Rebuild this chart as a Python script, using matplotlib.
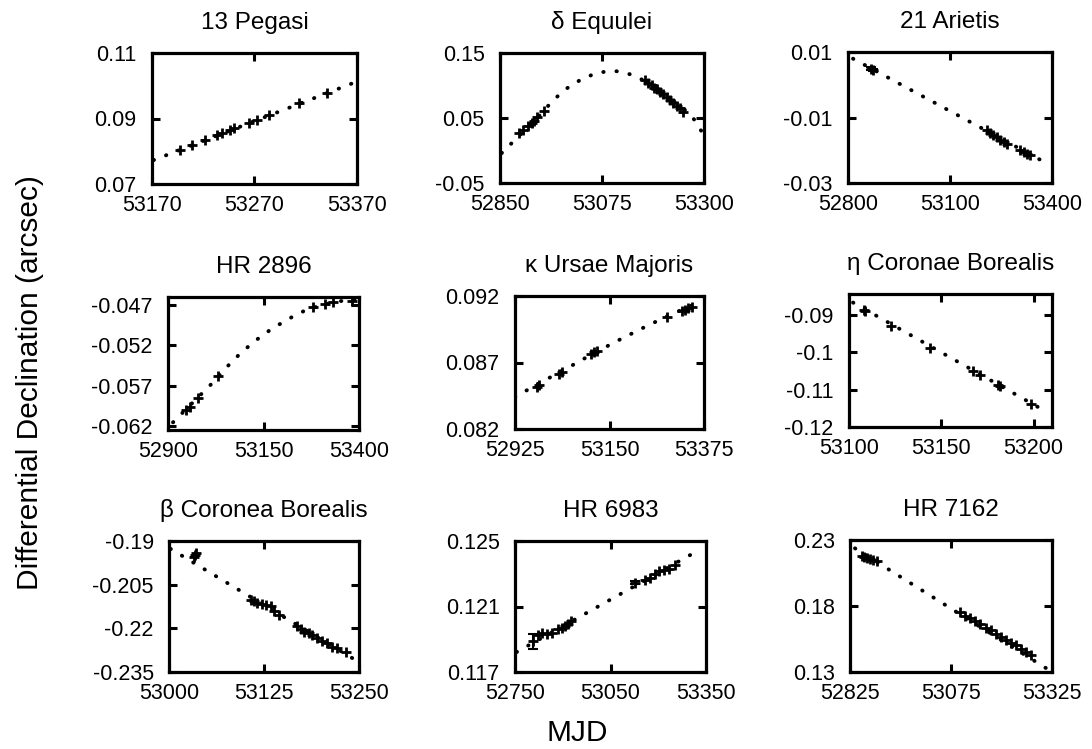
import matplotlib
matplotlib.use("Agg")
import matplotlib.pyplot as plt
import numpy as np

plt.rcParams['font.family'] = ['Liberation Sans', 'DejaVu Sans']

# 13 Pegasi
pegasi_mjd = [53197.6, 53209, 53222, 53233.4, 53238, 53246.4, 53249.7, 53264.3, 53272.4, 53283.8, 53313, 53340.7]
pegasi_dec = [0.0804, 0.0819, 0.0834, 0.0850, 0.0855, 0.0865, 0.0870, 0.0886, 0.0896, 0.0911, 0.0947, 0.0978]
pegasi_fit_mjd = [53171.6, 53366]
pegasi_fit_dec = [0.0773, 0.1008]

# delta Equulei
equ_mjd = [52892.6, 52900, 52912.5, 52919.9, 52925, 52932.4, 52947,
           53169.9, 53177.2, 53184.6, 53189.7, 53195.6, 53203, 53210.3, 53217.6,
           53225, 53232.4, 53239.7, 53247, 53254.4]
equ_dec = [0.0265, 0.0316, 0.0378, 0.0429, 0.0459, 0.0510, 0.0607,
           0.1082, 0.1041, 0.1005, 0.0969, 0.0939, 0.0903, 0.0862, 0.0816,
           0.0776, 0.0724, 0.0684, 0.0648, 0.0597]
equ_fit_mjd = [52853.7, 52879.4, 52908.8, 52938.2, 52967.6, 52997, 53026.5, 53055.9, 53085.3,
               53107.4, 53136.8, 53166.2, 53195.6, 53225, 53254.4, 53276.5, 53294.9]
equ_fit_dec = [-0.004, 0.0138, 0.0342, 0.0546, 0.0776, 0.0954, 0.1082, 0.1173, 0.1219,
               0.1219, 0.1173, 0.1082, 0.0954, 0.0801, 0.0648, 0.0495, 0.0291]

# 21 Arietis
ari_mjd = [52868.9, 52873.8, 53208.2, 53218, 53227.9, 53237.7, 53247.5, 53257.4, 53267.2,
           53306.6, 53316.4, 53326.2, 53336]
ari_dec = [0.0049, 0.0044, -0.0139, -0.0147, -0.0154, -0.0161, -0.0168, -0.0174, -0.0181,
           -0.0200, -0.0205, -0.0210, -0.0215]
ari_err = [0.0004, 0.0003, 0, 0, 0, 0, 0, 0, 0, 0, 0, 0, 0]
ari_fit_mjd = [52814.8, 53390.2]
ari_fit_dec = [0.00796, -0.0243]

# HR 2896
hr2896_mjd = [52946.3, 52958.6, 52978.7, 53031.1, 53280.2, 53310.8, 53332.7, 53380.8]
hr2896_dec = [-0.05998, -0.0596, -0.05857, -0.05584, -0.04729, -0.04688, -0.04667, -0.04646]
hr2896_fit_mjd = [52913.1, 52948.1, 52983, 53018, 53053, 53087.9, 53122.9, 53157.9,
                  53192.8, 53227.8, 53262.8, 53297.7, 53332.7, 53367.7, 53398.3]
hr2896_fit_dec = [-0.06155, -0.05989, -0.05824, -0.05659, -0.05473, -0.05307, -0.05163, -0.05039,
                  -0.04936, -0.0484, -0.04758, -0.04708, -0.04667, -0.04638, -0.04626]

# kappa Ursae Majoris
uma_mjd = [52976.6, 52982.9, 53030.6, 53036.9, 53105.2, 53113.1, 53121, 53286.1,
           53321.8, 53329.8, 53337.7, 53345.6]
uma_dec = [0.08517, 0.0853, 0.08617, 0.0863, 0.08763, 0.08778, 0.08788, 0.09044,
           0.09085, 0.09095, 0.09108, 0.0912]
uma_fit_mjd = [52925, 52984.5, 53048, 53111.5, 53175, 53238.5, 53302, 53369.4]
uma_fit_dec = [0.08441, 0.08547, 0.08655, 0.08768, 0.08873, 0.08974, 0.09069, 0.0916]

# eta Coronae Borealis
etacrb_mjd = [53108, 53108.8, 53122.9, 53144.1, 53167.2, 53170.8, 53180.7, 53181.6, 53198.8]
etacrb_dec = [-0.0886, -0.0889, -0.0930, -0.0988, -0.1049, -0.1060, -0.1087, -0.1090, -0.1137]
etacrb_fit_mjd = [53102.2, 53206.9]
etacrb_fit_dec = [-0.0866, -0.1159]

# beta Coronea Borealis
betacrb_mjd = [53032.9, 53034.2, 53036, 53107.5, 53111.8, 53116.2, 53122.8, 53127.2, 53133.8,
               53138.2, 53144.7, 53168.9, 53173.2, 53177.6, 53184.2, 53188.6, 53195.2,
               53201.8, 53208.3, 53215, 53221.5, 53232.5]
betacrb_dec = [-0.1954, -0.1947, -0.1942, -0.2101, -0.2106, -0.2112, -0.2118, -0.2120, -0.2124,
               -0.2139, -0.2153, -0.2193, -0.2203, -0.2211, -0.2217, -0.2222, -0.2234,
               -0.2243, -0.2251, -0.2263, -0.2269, -0.2280]
betacrb_fit_mjd = [53002, 53248]
betacrb_fit_dec = [-0.1927, -0.2313]

# HR 6983
hr6983_mjd = [52807.7, 52823.5, 52836, 52849.7, 52865.4, 52886.4, 52896.9, 52907.4, 52917.9, 52926.3,
              53127.8, 53159.3, 53175, 53190.8, 53201.3, 53217, 53232.8, 53251.6]
hr6983_dec = [0.11887, 0.11928, 0.11938, 0.11934, 0.1194, 0.11961, 0.11969, 0.11981, 0.11995, 0.12009,
              0.12245, 0.1226, 0.12274, 0.123, 0.12315, 0.12321, 0.12331, 0.12355]
hr6983_err = [0.00044, 0, 0, 0, 0, 0, 0, 0, 0, 0, 0.0001, 0, 0, 0, 0, 0, 0, 0]
hr6983_fit_mjd = [52755.2, 53335]
hr6983_fit_dec = [0.11822, 0.12452]

# HR 7162
hr7162_mjd = [52853.8, 52859.6, 52866.2, 52874.4, 52882.7, 52890.9,
              53096.8, 53109.2, 53121.5, 53133.9, 53146.2, 53162.7, 53175.1, 53187.4,
              53199.8, 53212.1, 53224.5, 53236.9, 53249.2, 53261.6, 53273.9]
hr7162_dec = [0.2179, 0.2169, 0.2161, 0.2154, 0.2149, 0.2141,
              0.1753, 0.1728, 0.1708, 0.1690, 0.1666, 0.1633, 0.1616, 0.1590,
              0.1565, 0.1540, 0.1523, 0.1503, 0.1477, 0.1452, 0.1427]
hr7162_fit_mjd = [52837.4, 53315.1]
hr7162_fit_dec = [0.2237, 0.1320]

titles = ["13 Pegasi", "\u03b4 Equulei", "21 Arietis",
          "HR 2896", "\u03ba Ursae Majoris", "\u03b7 Coronae Borealis",
          "\u03b2 Coronea Borealis", "HR 6983", "HR 7162"]
xtick_vals = [[53170, 53270, 53370], [52850, 53075, 53300], [52800, 53100, 53400],
              [52900, 53150, 53400], [52925, 53150, 53375], [53100, 53150, 53200],
              [53000, 53125, 53250], [52750, 53050, 53350], [52825, 53075, 53325]]
ytick_labels = [["0.07", "0.09", "0.11"], ["-0.05", "0.05", "0.15"], ["-0.03", "-0.01", "0.01"],
                ["-0.062", "-0.057", "-0.052", "-0.047"], ["0.082", "0.087", "0.092"],
                ["-0.12", "-0.11", "-0.1", "-0.09"],
                ["-0.235", "-0.22", "-0.205", "-0.19"], ["0.117", "0.121", "0.125"],
                ["0.13", "0.18", "0.23"]]
xlims = [(53170, 53370), (52850, 53300), (52800, 53400), (52900, 53400), (52925, 53375),
         (53100, 53210), (53000, 53250), (52750, 53350), (52825, 53325)]
ylims = [(0.07, 0.11), (-0.05, 0.15), (-0.03, 0.01), (-0.0625, -0.046), (0.082, 0.092),
         (-0.12, -0.0843), (-0.235, -0.19), (0.117, 0.125), (0.13, 0.23)]

points = [(pegasi_mjd, pegasi_dec, None), (equ_mjd, equ_dec, None), (ari_mjd, ari_dec, ari_err),
          (hr2896_mjd, hr2896_dec, None), (uma_mjd, uma_dec, None), (etacrb_mjd, etacrb_dec, None),
          (betacrb_mjd, betacrb_dec, None), (hr6983_mjd, hr6983_dec, hr6983_err),
          (hr7162_mjd, hr7162_dec, None)]
fits = [(pegasi_fit_mjd, pegasi_fit_dec), (equ_fit_mjd, equ_fit_dec), (ari_fit_mjd, ari_fit_dec),
        (hr2896_fit_mjd, hr2896_fit_dec), (uma_fit_mjd, uma_fit_dec), (etacrb_fit_mjd, etacrb_fit_dec),
        (betacrb_fit_mjd, betacrb_fit_dec), (hr6983_fit_mjd, hr6983_fit_dec),
        (hr7162_fit_mjd, hr7162_fit_dec)]

# axes boxes in pixels: left, top, right, bottom
boxes = [(152, 53, 357, 184), (500, 53, 704, 183), (848, 52, 1052, 183),
         (168, 297, 359, 430), (515, 296, 704, 429), (849, 294, 1052, 427),
         (169, 541, 359, 672), (515, 541, 706, 672), (850, 540, 1052, 672)]

W, H = 1092, 749
fig = plt.figure(figsize=(W / 100, H / 100), dpi=100)

for i in range(9):
    l, t, r, b = boxes[i]
    ax = fig.add_axes([l / W, 1 - b / H, (r - l) / W, (b - t) / H])
    fx, fy = fits[i]
    ax.plot(fx, fy, color='black', lw=2.8, linestyle=(0, (0.1, 3.3)),
            dash_capstyle='round', zorder=2)
    px, py, pe = points[i]
    ax.plot(px, py, linestyle='none', marker='+', ms=6.5, mew=2.0, color='black', zorder=3)
    if pe is not None:
        ex = [x for x, e in zip(px, pe) if e > 0]
        ey = [y for y, e in zip(py, pe) if e > 0]
        ee = [e for e in pe if e > 0]
        ax.errorbar(ex, ey, yerr=ee, fmt='none', ecolor='black', elinewidth=1.5,
                    capsize=3.5, capthick=1.5, zorder=3)
    ax.set_xlim(*xlims[i])
    ax.set_ylim(*ylims[i])
    ax.set_xticks(xtick_vals[i])
    ax.set_xticklabels([str(v) for v in xtick_vals[i]])
    yv = [float(s) for s in ytick_labels[i]]
    ax.set_yticks(yv)
    ax.set_yticklabels(ytick_labels[i])
    ax.tick_params(direction='in', length=6, width=2.2, top=True, right=True,
                   labelsize=15.5)
    ax.tick_params(axis='x', pad=8)
    ax.tick_params(axis='y', pad=11)
    for sp in ax.spines.values():
        sp.set_linewidth(2.3)
    ax.set_title(titles[i], fontsize=17.5, pad=17)

fig.text(30 / W, 1 - 383 / H, "Differential Declination (arcsec)", rotation=90,
         ha='center', va='center', fontsize=21.5)
fig.text(577 / W, 1 - 733 / H, "MJD", ha='center', va='center', fontsize=21.5)

fig.savefig("out.png", dpi=100)
